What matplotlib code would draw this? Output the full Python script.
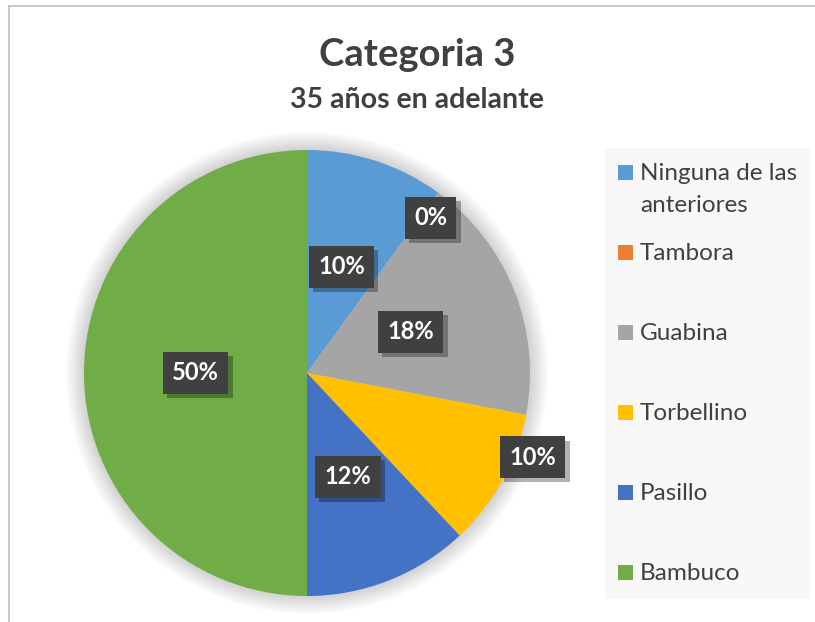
import matplotlib.pyplot as plt
import matplotlib.patheffects as pe
from matplotlib.patches import Rectangle, Circle
import numpy as np

plt.rcParams['font.family'] = ['Lato', 'DejaVu Sans']
plt.rcParams['hatch.color'] = '#575757'
plt.rcParams['hatch.linewidth'] = 1.5

categories = ['Ninguna de las\nanteriores', 'Tambora', 'Guabina', 'Torbellino', 'Pasillo', 'Bambuco']
values = [10, 0, 18, 10, 12, 50]
colors = ['#5B9BD5', '#ED7D31', '#A5A5A5', '#FFC000', '#4472C4', '#70AD47']
labels = ['10%', '0%', '18%', '10%', '12%', '50%']

# label placement (fraction of radius, nudge clockwise in degrees)
label_dist = [0.5, 0.89, 0.5, 1.08, 0.5, 0.5]
label_nudge = [0, 2.5, 0, -8.3, 0, 0]

W, H = 815, 622
fig = plt.figure(figsize=(W / 100, H / 100), dpi=100)

# chart border (top and left visible)
fig.add_artist(plt.Line2D([9 / W, 1], [1 - 6 / H, 1 - 6 / H], color='#BFBFBF', lw=1.2))
fig.add_artist(plt.Line2D([9 / W, 9 / W], [0, 1 - 6 / H], color='#BFBFBF', lw=1.2))

cx, cy, R = 307, 373, 223
ax = fig.add_axes([(cx - R * 1.1) / W, (H - cy - R * 1.1) / H, 2.2 * R / W, 2.2 * R / H])
ax.axis('off')

# soft shadow around pie
for k in range(16):
    ax.add_patch(Circle((0, 0), 1 + 0.0055 * k, color='black', alpha=0.011, lw=0, zorder=0))

ax.pie(values, colors=colors, startangle=90, counterclock=False, radius=1,
       wedgeprops=dict(linewidth=0), frame=False)
ax.set_xlim(-1.1, 1.1)
ax.set_ylim(-1.1, 1.1)
ax.set_aspect('equal')

total = sum(values)
cum = 0
for v, lab, d, nud in zip(values, labels, label_dist, label_nudge):
    mid = 360 * (cum + v / 2) / total + nud
    cum += v
    th = np.deg2rad(90 - mid)
    t = ax.text(d * np.cos(th), d * np.sin(th), lab, ha='center', va='center',
                color='white', fontsize=17, fontweight='bold', zorder=5,
                bbox=dict(boxstyle='square,pad=0.4', facecolor='#404040',
                          edgecolor='none', hatch='.'))
    t.get_bbox_patch().set_path_effects([
        pe.SimplePatchShadow(offset=(3, -3), shadow_rgbFace='black', alpha=0.3),
        pe.Normal()])

# titles
fig.text(417 / W, 1 - 55 / H, 'Categoria 3', ha='center', va='center',
         fontsize=27.5, fontweight='bold', color='#404040')
fig.text(417 / W, 1 - 100 / H, '35 años en adelante', ha='center', va='center',
         fontsize=20.5, fontweight='bold', color='#404040')

# legend
fig.add_artist(Rectangle((605 / W, 1 - 599 / H), 205 / W, 451 / H,
                         facecolor='#F8F8F8', edgecolor='none', zorder=0))
for i, (name, c) in enumerate(zip(categories, colors)):
    y = 172 + 80 * i
    fig.add_artist(Rectangle((618 / W, 1 - (y + 7.5) / H), 15 / W, 15 / H,
                             facecolor=c, edgecolor='none'))
    for j, line in enumerate(name.split('\n')):
        fig.text(640 / W, 1 - (y + 8.5 + 32 * j) / H, line, ha='left', va='baseline',
                 fontsize=17.5, color='#404040')

fig.savefig('out.png', dpi=100)
